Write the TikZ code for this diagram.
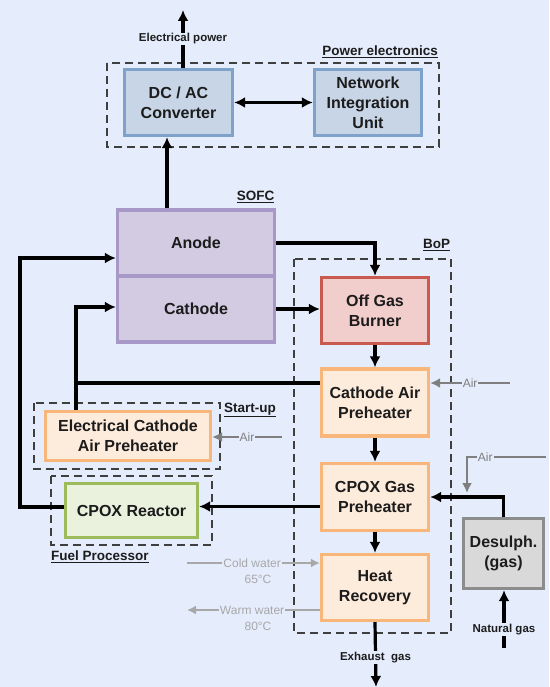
\documentclass[tikz,border=0pt]{standalone}
\usepackage{fontspec}
\setmainfont{Liberation Sans}
\usetikzlibrary{arrows.meta,calc}
\definecolor{bg}{HTML}{E5ECFC}
\definecolor{txt}{HTML}{1C1C1C}
\definecolor{pefill}{HTML}{C8D5E7}
\definecolor{pedraw}{HTML}{7EA2CA}
\definecolor{sofill}{HTML}{D3CBE2}
\definecolor{sodraw}{HTML}{A898C8}
\definecolor{obfill}{HTML}{F1CDCB}
\definecolor{obdraw}{HTML}{C95A4F}
\definecolor{orfill}{HTML}{FDEBDB}
\definecolor{ordraw}{HTML}{F8B67A}
\definecolor{grfill}{HTML}{EAF1DD}
\definecolor{grdraw}{HTML}{9CBC5B}
\definecolor{dsfill}{HTML}{D9D9D9}
\definecolor{dsdraw}{HTML}{8C8C8C}
\definecolor{airc}{HTML}{7F7F7F}
\definecolor{watc}{HTML}{A8A8A8}
\definecolor{dashc}{HTML}{3F3F3F}
\begin{document}
\begin{tikzpicture}[x=1pt,y=-1pt,
  box/.style={draw, line width=3.3pt, align=center, inner sep=0pt,
    font=\bfseries\fontsize{16}{20}\selectfont, text=txt},
  pebox/.style={box, fill=pefill, draw=pedraw},
  sobox/.style={box, fill=sofill, draw=sodraw},
  obbox/.style={box, fill=obfill, draw=obdraw},
  orbox/.style={box, fill=orfill, draw=ordraw},
  grbox/.style={box, fill=grfill, draw=grdraw},
  dsbox/.style={box, fill=dsfill, draw=dsdraw},
  conn/.style={line width=3.2pt, black},
  arr/.style={conn, -{Latex[length=11pt,width=11pt]}},
  arrboth/.style={conn, {Latex[length=11pt,width=11pt]}-{Latex[length=11pt,width=11pt]}},
  airarr/.style={line width=2.8pt, airc, -{Latex[length=10pt,width=10pt]}},
  watarr/.style={line width=2pt, watc, -{Latex[length=9pt,width=9pt]}},
  frame/.style={dashc, line width=1.5pt, dash pattern=on 8pt off 5pt},
  lbl/.style={fill=bg, inner sep=1pt, text=txt, font=\bfseries\fontsize{11.5}{13}\selectfont},
  airlbl/.style={fill=bg, inner sep=1pt, text=airc, font=\fontsize{12}{13}\selectfont},
  watlbl/.style={fill=bg, inner sep=1pt, text=watc, font=\fontsize{12}{14}\selectfont},
  grplbl/.style={inner sep=0pt, text=txt, font=\bfseries\fontsize{13.5}{16}\selectfont}
]
\useasboundingbox (0,0) rectangle (549,687);
\fill[bg] (0,0) rectangle (549,687);

% dashed group frames
\draw[frame] (107,63) rectangle (439,147);
\draw[frame] (294,259) rectangle (451,633);
\draw[frame] (34,403) rectangle (220,469);
\draw[frame] (51,476) rectangle (212,545);
\node[grplbl, anchor=east] (lpe) at (438,52) {\underline{Power electronics}};
\node[grplbl] (lsofc) at (255.5,197) {\underline{SOFC}};
\node[grplbl] (lbop) at (436.5,245) {\underline{BoP}};
\node[grplbl, anchor=west] (lsu) at (224,410) {\underline{Start-up}};
\node[grplbl, anchor=west] (lfp) at (51,557) {\underline{Fuel Processor}};

% boxes
\node[pebox, minimum width=108pt, minimum height=66pt] (dcac) at (178.5,102.5) {DC / AC\\Converter};
\node[pebox, minimum width=107pt, minimum height=66pt] (niu) at (368,102.5) {Network\\Integration\\Unit};
\node[sobox, minimum width=157pt, minimum height=66pt] (anode) at (196,243) {Anode};
\node[sobox, minimum width=157pt, minimum height=66pt] (cathode) at (196,309) {Cathode};
\node[obbox, minimum width=107pt, minimum height=66pt] (ogb) at (375,310.5) {Off Gas\\Burner};
\node[orbox, minimum width=107pt, minimum height=67pt] (cap) at (375,402.5) {Cathode Air\\Preheater};
\node[orbox, minimum width=107pt, minimum height=67pt] (cgp) at (375,497) {CPOX Gas\\Preheater};
\node[orbox, minimum width=107pt, minimum height=66pt] (hr) at (375,587.5) {Heat\\Recovery};
\node[orbox, minimum width=165pt, minimum height=49pt] (ecap) at (128,436) {Electrical Cathode\\Air Preheater};
\node[grbox, minimum width=132pt, minimum height=54pt] (cpox) at (131.5,510.5) {CPOX Reactor};
\node[dsbox, minimum width=80pt, minimum height=70pt] (ds) at (503.5,553.5) {Desulph.\\(gas)};

% power electronics
\coordinate (ep) at (183,10);
\draw[arr] (dcac.north -| ep) -- (ep) node[lbl, pos=0.5] (lep) {Electrical power};
\draw[arrboth] (dcac.east) -- (niu.west);
\coordinate (dcb) at ($(dcac.south)+(-11.5,0)$);
\draw[arr] (dcb |- anode.north) -- (dcb);

% SOFC to burner
\draw[arr] (anode.east) -| (ogb.north);
\draw[arr] (cathode.east) -- (cathode.east -| ogb.west);

% BoP chain
\draw[arr] (ogb.south) -- (cap.north);
\draw[arr] (cap.south) -- (cgp.north);
\draw[arr] (cgp.south) -- (hr.north);

% cathode air feed
\coordinate (j1) at (76,383);
\coordinate (cin) at (76,307);
\draw[arr] (cap.west |- j1) -- (j1) -- (cin) -- (cin -| cathode.west);
\draw[conn] (j1) -- (j1 |- ecap.north);

% fuel feed
\coordinate (cpe) at ($(cpox.east)+(0,-4)$);
\draw[arr] (cgp.west |- cpe) -- (cpe);
\coordinate (cpw) at ($(cpox.west)+(0,-3.5)$);
\coordinate (fbl) at (20,258);
\draw[arr] (cpw) -- (cpw -| fbl) -- (fbl) -- (fbl -| anode.west);

% desulphuriser
\draw[arr] (ds.north) |- (cgp.east);
\coordinate (ng) at (504,648);
\draw[arr] (ng) -- (ng |- ds.south) node[lbl, pos=0.32] (lng) {Natural gas};

% air inputs
\coordinate (a1) at (510,383);
\draw[airarr] (a1) -- (a1 -| cap.east) node[airlbl, pos=0.5] (la1) {Air};
\coordinate (a2) at (282,437);
\draw[airarr] (a2) -- (a2 -| ecap.east) node[airlbl, pos=0.5] (la2) {Air};
\coordinate (a3) at (546,457);
\coordinate (a3c) at (467,457);
\coordinate (a3e) at (467,493);
\draw[airarr] (a3) -- (a3c) node[airlbl, pos=0.77] (la3) {Air} -- (a3e);

% water
\coordinate (cw) at (187,563);
\draw[watarr] (cw) -- (cw -| hr.west) node[watlbl, pos=0.49] (lcw) {Cold water};
\node[watlbl] (t65) at (258,579) {65°C};
\coordinate (ww) at (187,610);
\draw[watarr] (ww -| hr.west) -- (ww) node[watlbl, pos=0.51] (lww) {Warm water};
\node[watlbl] (t80) at (258,626) {80°C};

% exhaust
\coordinate (ex) at (376,687);
\draw[arr] (hr.south) -- (ex) node[lbl, pos=0.54] (lex) {Exhaust\ \ gas};
\end{tikzpicture}
\end{document}
